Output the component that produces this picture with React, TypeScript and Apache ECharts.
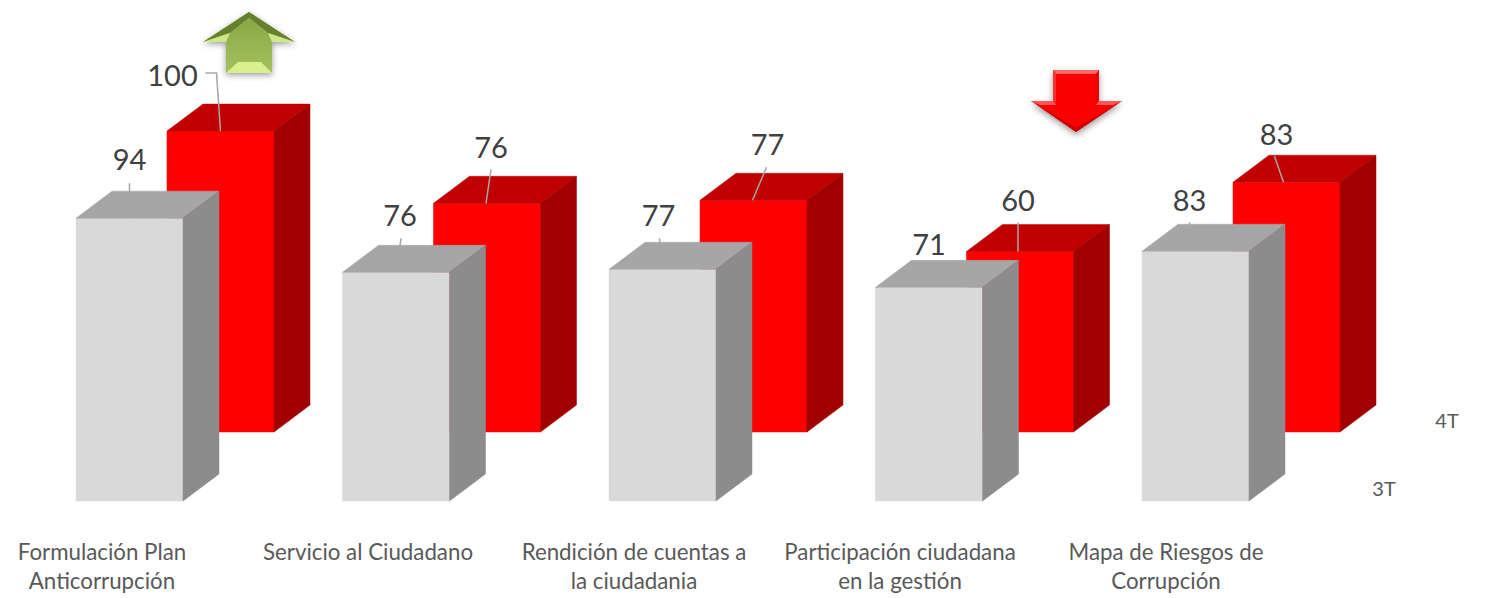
import React, { useEffect, useRef } from "react";
import * as echarts from "echarts";

const categories = [
  "Formulación Plan\nAnticorrupción",
  "Servicio al Ciudadano",
  "Rendición de cuentas a\nla ciudadania",
  "Participación ciudadana\nen la gestión",
  "Mapa de Riesgos de\nCorrupción",
];
const seriesNames = ["3T", "4T"];
const values3T = [94, 76, 77, 71, 83];
const values4T = [100, 76, 77, 60, 83];

const FONT = "Lato, 'Open Sans', sans-serif";
const BAR_W = 107;
const DEPTH_X = 36;
const DEPTH_Y = 27;
const BAND = 266.5;
const PLOT_H = 331;
const Y_MAX = 110;

// label placement relative to the top centre of each bar's front face:
// [label dx, label dy, leader start dx, leader start dy, leader end dx]
const labelPlace3T = [
  [0, -60, 0, -35, 0],
  [4, -58, 5, -34, 0],
  [-4, -55, -3, -31, 0],
  [0, -44, -2, -27, -2],
  [-6, -52, -6, -29, -3],
];
const labelPlace4T = [
  [-48, -57, -4, -58, 0],
  [4, -57, 4, -34, -1],
  [14, -57, 13, -33, -1],
  [-2, -52, -2, -29, -2],
  [-10, -49, -12, -26, -3],
];

function bar3d(front: string, top: string, side: string, place: number[][]) {
  return (params: any, api: any) => {
    const i = api.value(0);
    const [cx, ty] = api.coord([i, api.value(1)]);
    const [, by] = api.coord([i, 0]);
    const l = cx - BAR_W / 2;
    const r = cx + BAR_W / 2;
    const p = place[params.dataIndex];
    const points = (pts: number[][], fill: string) => ({
      type: "polygon",
      shape: { points: pts },
      style: { fill, stroke: fill, lineWidth: 0.5 },
    });
    const leader =
      p[0] < -30
        ? [
            [cx + p[2] - 11, ty + p[3]],
            [cx + p[2], ty + p[3]],
            [cx + p[4], ty],
          ]
        : [
            [cx + p[2], ty + p[3]],
            [cx + p[4], ty],
          ];
    return {
      type: "group",
      children: [
        points([[l, ty], [r, ty], [r, by], [l, by]], front),
        points([[l, ty], [l + DEPTH_X, ty - DEPTH_Y], [r + DEPTH_X, ty - DEPTH_Y], [r, ty]], top),
        points([[r, ty], [r + DEPTH_X, ty - DEPTH_Y], [r + DEPTH_X, by - DEPTH_Y], [r, by]], side),
        {
          type: "polyline",
          shape: { points: leader },
          style: { stroke: "#a6a6a6", lineWidth: 1.5, fill: "none" },
        },
        {
          type: "text",
          style: {
            x: cx + p[0],
            y: ty + p[1],
            text: String(api.value(1)),
            fill: "#404040",
            font: `29px ${FONT}`,
            align: "center",
            verticalAlign: "middle",
          },
        },
      ],
    };
  };
}

const poly = (points: number[][], fill: any, extra: any = {}) => ({
  type: "polygon",
  silent: true,
  shape: { points },
  style: { fill, ...extra },
});
const vGrad = (a: string, b: string) =>
  new echarts.graphic.LinearGradient(0, 0, 0, 1, [
    { offset: 0, color: a },
    { offset: 1, color: b },
  ]);

const arrowUp = [
  poly(
    [[249, 12], [295, 42], [272, 42], [272, 73], [226, 73], [226, 42], [203, 42]],
    "#9bb955",
    { shadowBlur: 6, shadowColor: "rgba(0,0,0,0.4)", shadowOffsetY: 2 },
  ),
  poly([[249, 12], [203, 42], [230, 33], [249, 18]], "#66802f"),
  poly([[249, 12], [295, 42], [268, 33], [249, 18]], "#66802f"),
  poly([[249, 18], [268, 33], [272, 42], [272, 73], [226, 73], [226, 42], [230, 33]], vGrad("#8aa748", "#a4c25c")),
  poly([[203, 42], [226, 42], [230, 33]], "#cfe787"),
  poly([[295, 42], [272, 42], [268, 33]], "#cfe787"),
  poly([[226, 73], [238, 62], [261, 62], [272, 73]], "#d8f08e"),
];

const arrowDown = [
  poly(
    [[1053, 70], [1099, 70], [1099, 101], [1122, 101], [1076, 132], [1031, 101], [1053, 101]],
    "#fb0000",
    { shadowBlur: 6, shadowColor: "rgba(0,0,0,0.4)", shadowOffsetY: 3 },
  ),
  poly([[1053, 70], [1099, 70], [1096, 74], [1056, 74]], "#ff6a6a"),
  poly([[1053, 70], [1056, 74], [1056, 104], [1053, 101]], "#ff3030"),
  poly([[1099, 70], [1096, 74], [1096, 104], [1099, 101]], "#e80000"),
  poly([[1031, 101], [1053, 101], [1056, 105], [1040, 105]], "#ff5a5a"),
  poly([[1122, 101], [1099, 101], [1096, 105], [1113, 105]], "#ff5a5a"),
  poly([[1034, 103], [1076, 132], [1119, 103], [1076, 128]], "#c80000"),
];

const hiddenY = (gridIndex: number) => ({
  type: "value" as const,
  gridIndex,
  min: 0,
  max: Y_MAX,
  show: false,
});
const hiddenX = (gridIndex: number) => ({
  type: "category" as const,
  gridIndex,
  data: categories,
  boundaryGap: false,
  show: false,
});

export default function App() {
  const ref = useRef<HTMLDivElement>(null);
  useEffect(() => {
    document.body.style.margin = "0";
    const chart = echarts.init(ref.current!, null, { renderer: "svg" });
    chart.setOption({
      animation: false,
      backgroundColor: "#ffffff",
      grid: [
        { left: 220.5, top: 432 - PLOT_H, width: BAND * 4, height: PLOT_H },
        { left: 129.5, top: 501 - PLOT_H, width: BAND * 4, height: PLOT_H },
        { left: 102, top: 400, width: 1064, height: 130 },
      ],
      xAxis: [
        hiddenX(0),
        hiddenX(1),
        {
          type: "category",
          gridIndex: 2,
          data: categories,
          boundaryGap: false,
          axisLine: { show: false },
          axisTick: { show: false },
          axisLabel: {
            interval: 0,
            margin: 7,
            fontFamily: FONT,
            fontSize: 22.3,
            lineHeight: 29,
            color: "#595959",
          },
        },
      ],
      yAxis: [hiddenY(0), hiddenY(1), hiddenY(2)],
      series: [
        {
          name: seriesNames[1],
          type: "custom",
          xAxisIndex: 0,
          yAxisIndex: 0,
          clip: false,
          encode: { x: 0, y: 1 },
          data: values4T.map((v, i) => [i, v]),
          renderItem: bar3d("#ff0000", "#c00000", "#a00000", labelPlace4T),
        },
        {
          name: seriesNames[0],
          type: "custom",
          xAxisIndex: 1,
          yAxisIndex: 1,
          clip: false,
          encode: { x: 0, y: 1 },
          data: values3T.map((v, i) => [i, v]),
          renderItem: bar3d("#d9d9d9", "#a6a6a6", "#8c8c8c", labelPlace3T),
        },
      ],
      graphic: [
        ...arrowUp,
        ...arrowDown,
        {
          type: "text",
          x: 1384,
          y: 488,
          style: { text: seriesNames[0], font: `20px ${FONT}`, fill: "#595959", align: "center", verticalAlign: "middle" },
        },
        {
          type: "text",
          x: 1447,
          y: 420,
          style: { text: seriesNames[1], font: `20px ${FONT}`, fill: "#595959", align: "center", verticalAlign: "middle" },
        },
      ],
    });
    return () => chart.dispose();
  }, []);
  return <div ref={ref} style={{ width: 1499, height: 598 }} />;
}
